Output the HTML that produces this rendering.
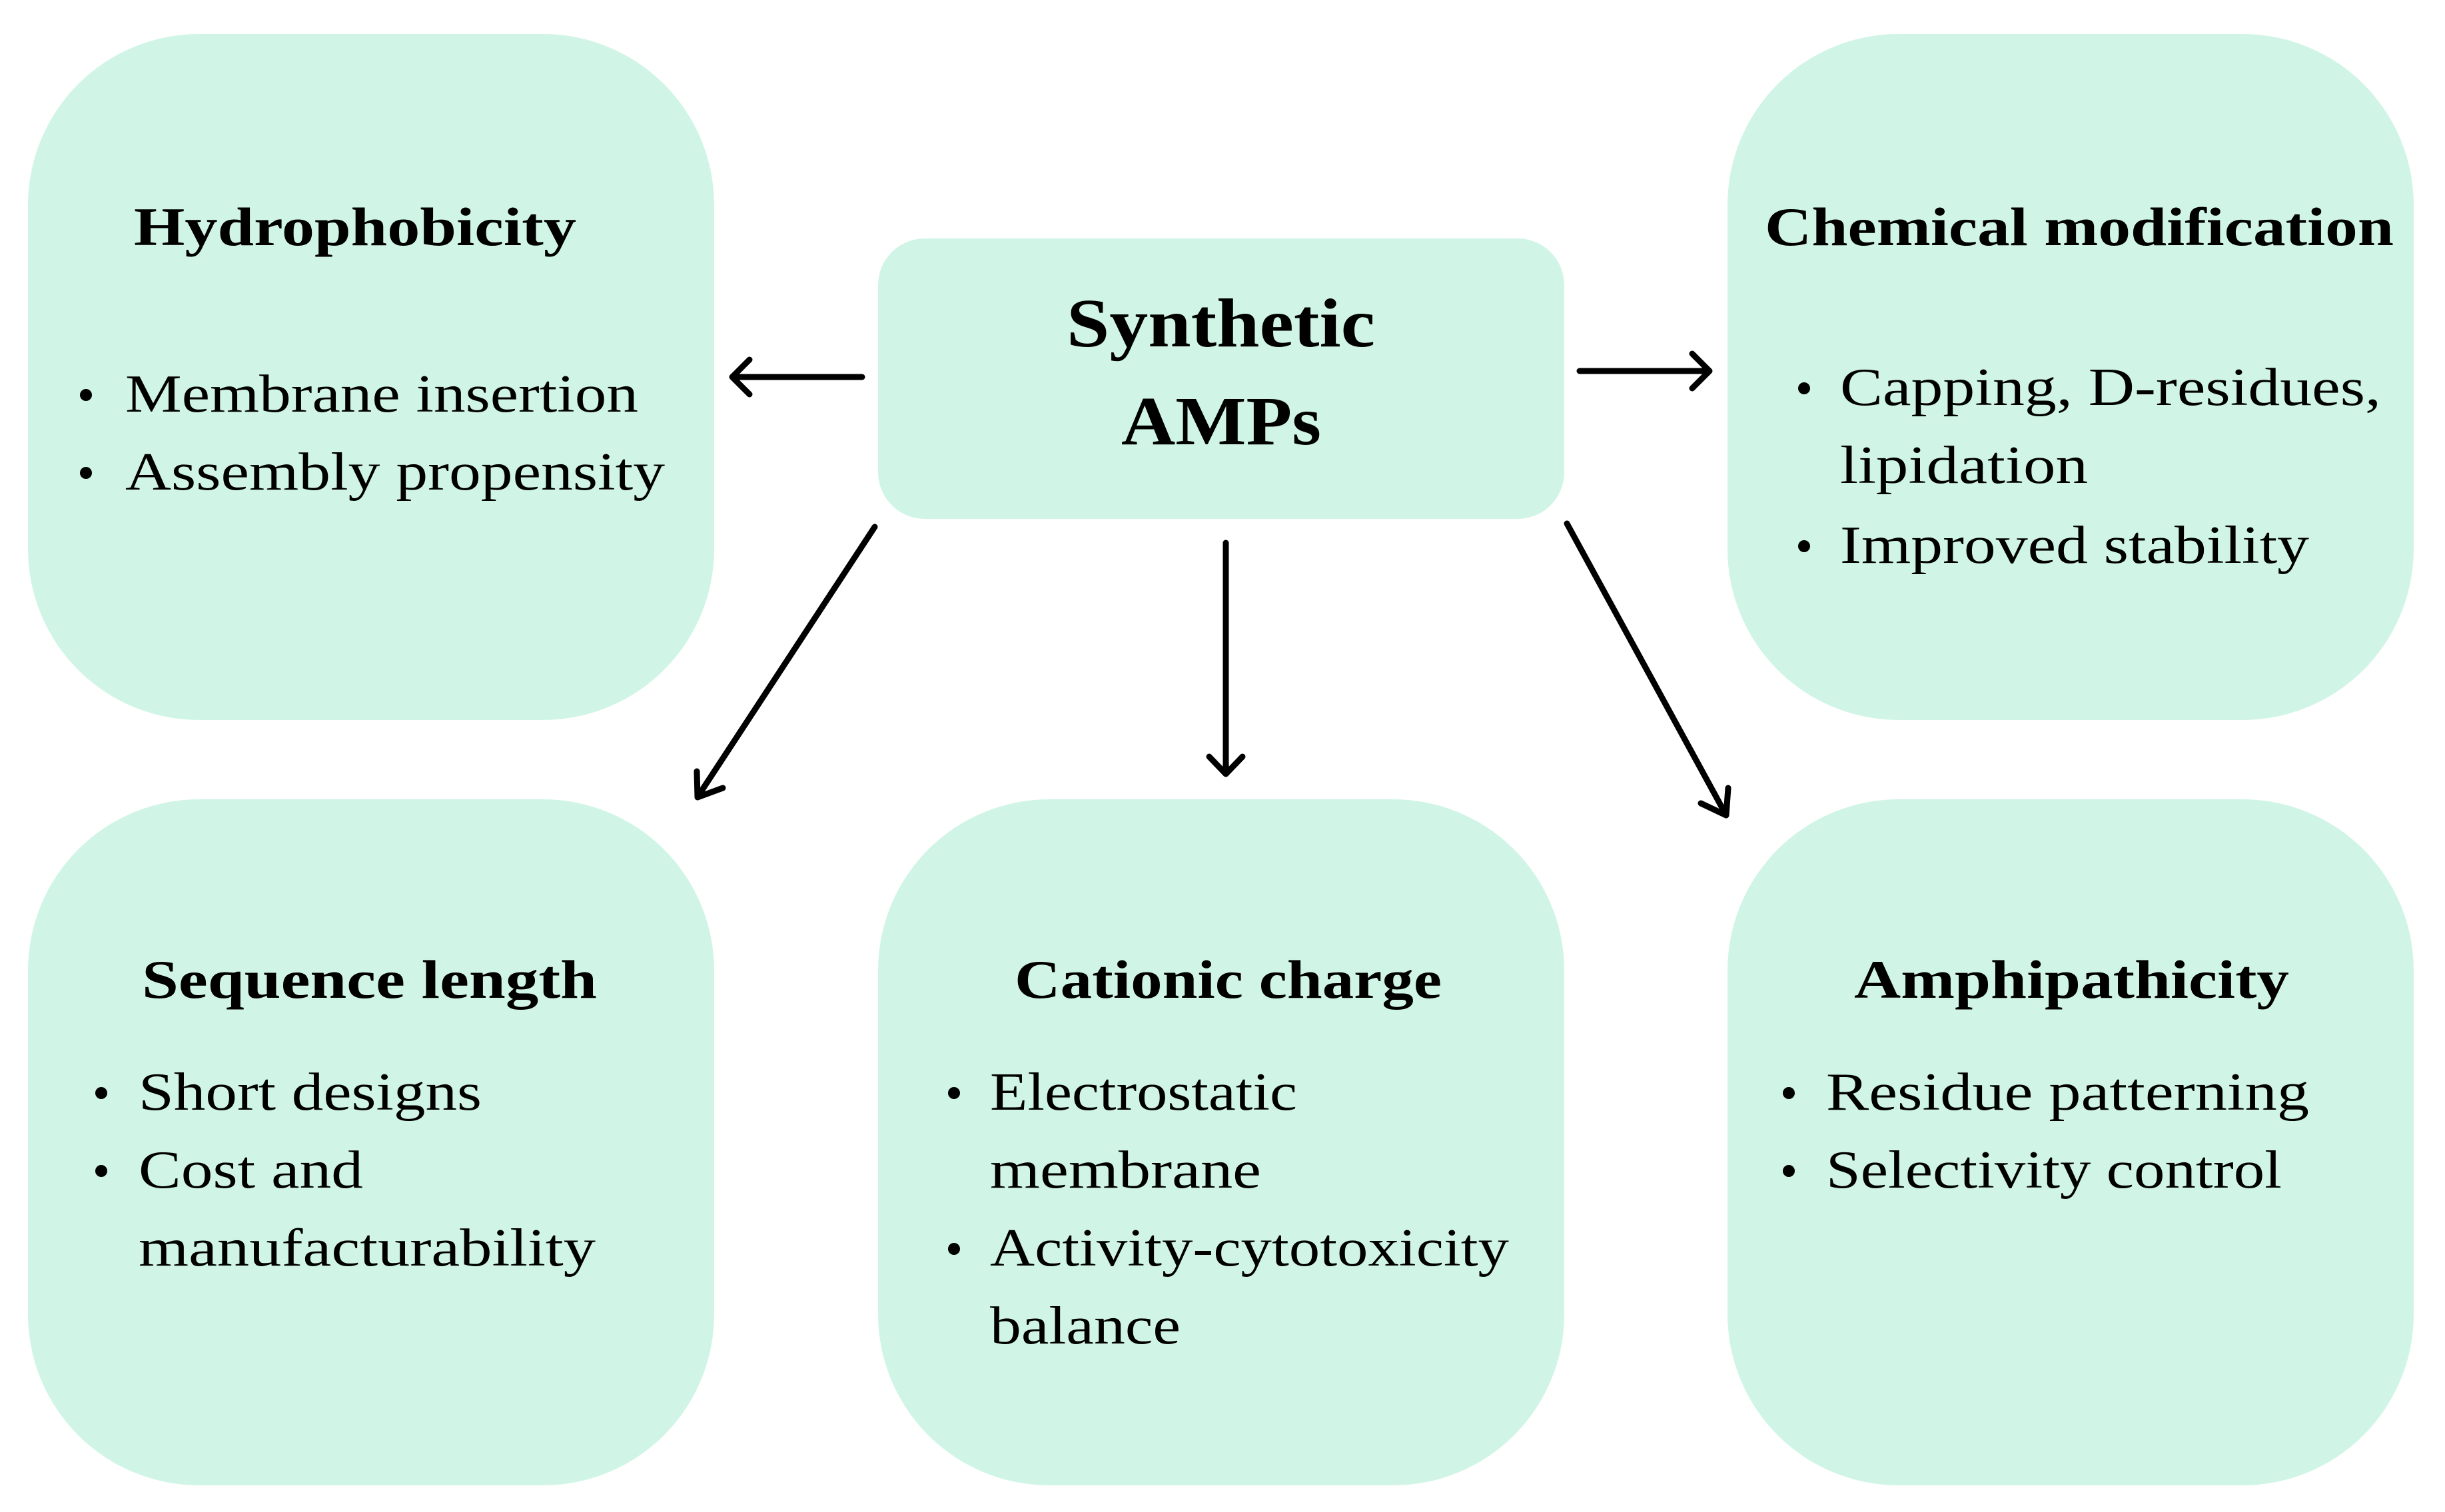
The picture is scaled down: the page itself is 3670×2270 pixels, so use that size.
<!DOCTYPE html>
<html><head><meta charset="utf-8"><style>
html,body{margin:0;padding:0;background:#fff;}
svg{display:block;}
text{font-family:"Liberation Serif",serif;fill:#000;}
.t{font-weight:bold;font-size:82px;}
.b{font-size:80px;}
.c{font-weight:bold;font-size:104px;}
</style></head><body>
<svg width="3670" height="2270" viewBox="0 0 3670 2270" xmlns="http://www.w3.org/2000/svg">
<g fill="#d0f5e6">
<rect x="42" y="51" width="1030" height="1030" rx="257" ry="257"/>
<rect x="2593" y="51" width="1030" height="1030" rx="257" ry="257"/>
<rect x="42" y="1200" width="1030" height="1030" rx="257" ry="257"/>
<rect x="1318" y="1200" width="1030" height="1030" rx="257" ry="257"/>
<rect x="2593" y="1200" width="1030" height="1030" rx="257" ry="257"/>
<rect x="1318" y="358" width="1030" height="421" rx="70" ry="70"/>
</g>
<g stroke="#000" stroke-width="9" fill="none" stroke-linecap="round" stroke-linejoin="round">
<line x1="1294" y1="566" x2="1100" y2="566"/><polyline points="1125,540 1099,566 1125,592"/>
<line x1="2371" y1="557" x2="2565" y2="557"/><polyline points="2540,531 2566,557 2540,583"/>
<line x1="1313" y1="791" x2="1048" y2="1195"/><polyline points="1046,1158 1047,1197 1085,1183"/>
<line x1="1840" y1="815" x2="1840" y2="1160"/><polyline points="1815,1136 1840,1162 1865,1136"/>
<line x1="2352" y1="786" x2="2590" y2="1222"/><polyline points="2553,1206 2591,1224 2594,1183"/>
</g>
<g fill="#000">
<circle cx="129" cy="593" r="9"/><circle cx="129" cy="710" r="9"/>
<circle cx="2708" cy="583" r="9"/><circle cx="2708" cy="820" r="9"/>
<circle cx="152" cy="1641" r="9"/><circle cx="152" cy="1758" r="9"/>
<circle cx="1432" cy="1641" r="9"/><circle cx="1432" cy="1875" r="9"/>
<circle cx="2685" cy="1641" r="9"/><circle cx="2685" cy="1758" r="9"/>
</g>
<text class="c" x="1601" y="520" textLength="463" lengthAdjust="spacingAndGlyphs">Synthetic</text>
<text class="c" x="1683" y="667" textLength="300" lengthAdjust="spacingAndGlyphs">AMPs</text>

<text class="t" x="201" y="368" textLength="664" lengthAdjust="spacingAndGlyphs">Hydrophobicity</text>
<text class="b" x="188" y="618" textLength="770" lengthAdjust="spacingAndGlyphs">Membrane insertion</text>
<text class="b" x="188" y="735" textLength="810" lengthAdjust="spacingAndGlyphs">Assembly propensity</text>

<text class="t" x="2649" y="368" textLength="944" lengthAdjust="spacingAndGlyphs">Chemical modification</text>
<text class="b" x="2762" y="608" textLength="812" lengthAdjust="spacingAndGlyphs">Capping, D-residues,</text>
<text class="b" x="2762" y="725" textLength="372" lengthAdjust="spacingAndGlyphs">lipidation</text>
<text class="b" x="2762" y="845" textLength="704" lengthAdjust="spacingAndGlyphs">Improved stability</text>

<text class="t" x="213" y="1498" textLength="683" lengthAdjust="spacingAndGlyphs">Sequence length</text>
<text class="b" x="208" y="1666" textLength="515" lengthAdjust="spacingAndGlyphs">Short designs</text>
<text class="b" x="208" y="1783" textLength="337" lengthAdjust="spacingAndGlyphs">Cost and</text>
<text class="b" x="208" y="1900" textLength="686" lengthAdjust="spacingAndGlyphs">manufacturability</text>

<text class="t" x="1523" y="1498" textLength="641" lengthAdjust="spacingAndGlyphs">Cationic charge</text>
<text class="b" x="1486" y="1666" textLength="461" lengthAdjust="spacingAndGlyphs">Electrostatic</text>
<text class="b" x="1486" y="1783" textLength="407" lengthAdjust="spacingAndGlyphs">membrane</text>
<text class="b" x="1486" y="1900" textLength="779" lengthAdjust="spacingAndGlyphs">Activity-cytotoxicity</text>
<text class="b" x="1486" y="2017" textLength="286" lengthAdjust="spacingAndGlyphs">balance</text>

<text class="t" x="2783" y="1498" textLength="653" lengthAdjust="spacingAndGlyphs">Amphipathicity</text>
<text class="b" x="2741" y="1666" textLength="725" lengthAdjust="spacingAndGlyphs">Residue patterning</text>
<text class="b" x="2741" y="1783" textLength="684" lengthAdjust="spacingAndGlyphs">Selectivity control</text>
</svg>
</body></html>
